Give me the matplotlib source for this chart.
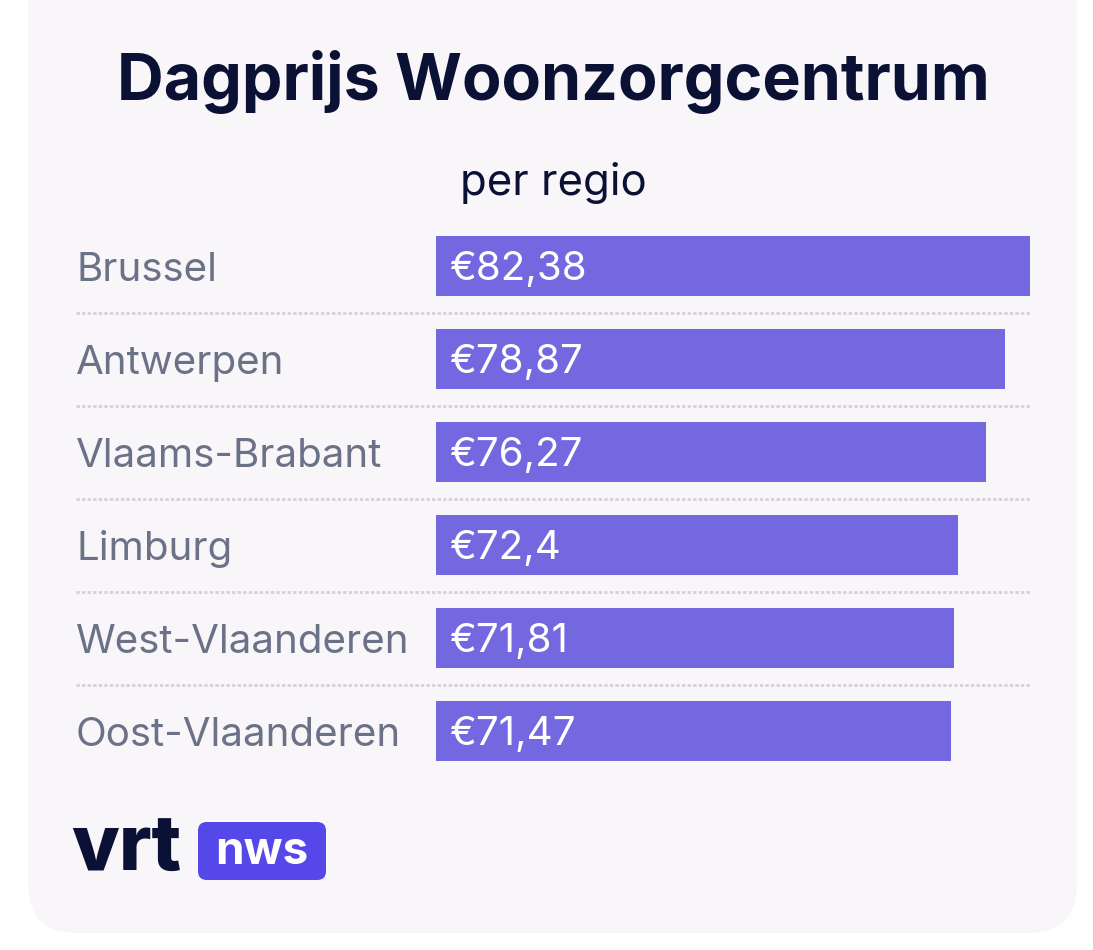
import matplotlib
matplotlib.use('Agg')
import matplotlib.pyplot as plt
from matplotlib.patches import FancyBboxPatch
from matplotlib.transforms import blended_transform_factory

# ------------------------
# data
# ------------------------
regions = ['Brussel', 'Antwerpen', 'Vlaams-Brabant', 'Limburg',
           'West-Vlaanderen', 'Oost-Vlaanderen']
prices = [82.38, 78.87, 76.27, 72.4, 71.81, 71.47]
price_labels = ['€82,38', '€78,87', '€76,27', '€72,4', '€71,81', '€71,47']

title = 'Dagprijs Woonzorgcentrum'
subtitle = 'per regio'

# ------------------------
W, H = 1093, 950
bar_col = '#7468e1'
navy = '#0b1035'
grey = '#6b7187'
card_col = '#f8f6f8'

plt.rcParams['font.family'] = ['Inter', 'DejaVu Sans']

fig = plt.figure(figsize=(W / 100, H / 100), dpi=100)
fig.patch.set_facecolor('white')

# card background
card = FancyBboxPatch((28 / W, 17 / H), (1077 - 28) / W, 1.2,
                      boxstyle='round,pad=0,rounding_size=0.045',
                      transform=fig.transFigure, facecolor=card_col,
                      edgecolor='none', mutation_aspect=W / H, zorder=-5)
fig.patches.append(card)

# titles
fig.text(553 / W, 1 - 100 / H, title, ha='center', va='baseline',
         fontsize=46.5, fontweight='bold', color=navy)
fig.text(553 / W, 1 - 195 / H, subtitle, ha='center', va='baseline',
         fontsize=31.5, color=navy)

# bar axes: x from 436 to 1030 px, rows spaced 93 px
top_px, bot_px = 219.5, 777.5
ax = fig.add_axes([436 / W, 1 - bot_px / H, (1030 - 436) / W, (bot_px - top_px) / H])
ax.set_zorder(2)
ax.patch.set_visible(False)
ax.set_xlim(0, max(prices))
ax.set_ylim(len(regions) - 0.5, -0.5)
ax.axis('off')

ys = range(len(regions))
ax.barh(ys, prices, height=0.645, color=bar_col, edgecolor='none')

trans = blended_transform_factory(fig.transFigure, ax.transData)
for i, (reg, lab) in enumerate(zip(regions, price_labels)):
    ax.text(76 / W, i + 0.165, reg, transform=trans, ha='left', va='baseline',
            fontsize=29, color=grey)
    ax.text(450 / W, i + 0.155, lab, transform=trans, ha='left', va='baseline',
            fontsize=29, color='white')

# dotted separators
for i in range(len(regions) - 1):
    ax.plot([76 / W, 1030 / W], [i + 0.5, i + 0.5], transform=trans,
            color='#d3d2d8', lw=2, linestyle=(0, (1.2, 0.8)),
            clip_on=False, solid_capstyle='butt')

# logo
fig.text(71 / W, 1 - 850 / H, 'vrt', ha='left', va='center',
         fontsize=56, fontweight='heavy', color=navy)
logo = FancyBboxPatch((198 / W, 1 - 880 / H), 128 / W, 58 / H,
                      boxstyle='round,pad=0,rounding_size=0.008',
                      transform=fig.transFigure, facecolor='#5647e8',
                      edgecolor='none', mutation_aspect=W / H)
fig.patches.append(logo)
fig.text(262 / W, 1 - 864 / H, 'nws', ha='center', va='baseline',
         fontsize=33, fontweight='bold', color='white')

fig.savefig('out.png', dpi=100, facecolor='white')
